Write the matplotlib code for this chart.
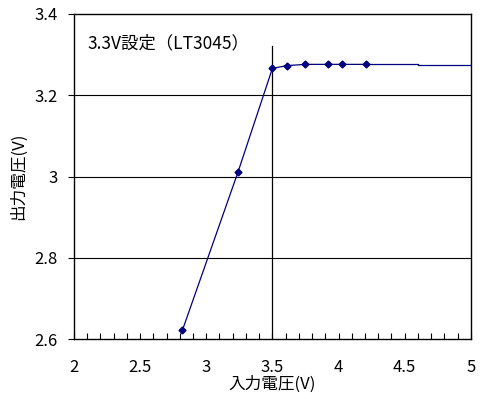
import matplotlib
matplotlib.use("Agg")
import matplotlib.pyplot as plt
from matplotlib.ticker import MultipleLocator

plt.rcParams['font.family'] = ['Noto Sans CJK JP', 'DejaVu Sans']

vin = [2.82, 3.24, 3.50, 3.61, 3.75, 3.92, 4.03, 4.21]
vout = [2.622, 3.011, 3.266, 3.273, 3.276, 3.276, 3.276, 3.276]
ext_x = [4.21, 4.6]
ext_y = [3.276, 3.276]
tail_x = [4.6, 5.0]
tail_y = [3.275, 3.275]
vline_x = 3.5
vline_top = 3.32
xticks = [2, 2.5, 3, 3.5, 4, 4.5, 5]
xticklabels = ['2', '2.5', '3', '3.5', '4', '4.5', '5']
yticks = [2.6, 2.8, 3.0, 3.2, 3.4]
yticklabels = ['2.6', '2.8', '3', '3.2', '3.4']
title_text = '3.3V設定（LT3045）'

fig = plt.figure(figsize=(4.93, 3.99), dpi=100)
ax = fig.add_axes([0.150, 0.150, 0.805, 0.815])
color = '#000080'

for y in [2.8, 3.0, 3.2]:
    ax.axhline(y, color='black', lw=0.8, zorder=1)
ax.plot([vline_x, vline_x], [2.6, vline_top], color='black', lw=0.9, zorder=2)

ax.plot(vin, vout, color=color, lw=0.9, marker='D', markersize=3.5, zorder=3)
ax.plot(ext_x, ext_y, color=color, lw=0.9, zorder=3)
ax.plot(tail_x, tail_y, color=color, lw=0.9, zorder=3)

ax.set_xlim(2, 5)
ax.set_ylim(2.6, 3.4)
ax.set_xticks(xticks)
ax.set_xticklabels(xticklabels)
ax.set_yticks(yticks)
ax.set_yticklabels(yticklabels)
ax.xaxis.set_minor_locator(MultipleLocator(0.1))
ax.tick_params(axis='x', which='both', direction='in', length=4, width=0.8, pad=14, labelsize=12)
ax.tick_params(axis='y', which='major', direction='out', length=4, width=0.8, labelsize=12, pad=8)
for s in ax.spines.values():
    s.set_linewidth(1.0)

ax.set_xlabel('入力電圧(V)', fontsize=12, labelpad=0)
ax.set_ylabel('出力電圧(V)', fontsize=12, labelpad=5)
ax.text(0.035, 0.91, title_text, transform=ax.transAxes, fontsize=12.5, va='center', ha='left')

fig.savefig('out.png', dpi=100)
